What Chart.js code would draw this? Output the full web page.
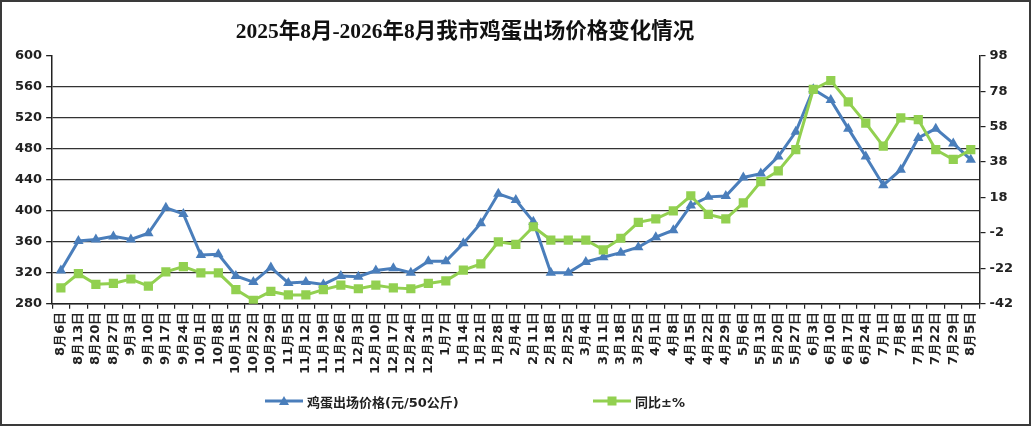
<!DOCTYPE html>
<html>
<head>
<meta charset="utf-8">
<script src="https://cdn.jsdelivr.net/npm/chart.js@4.4.1/dist/chart.umd.min.js"></script>
<style>
  html, body { margin: 0; padding: 0; background: #fff; }
  #wrap { position: relative; width: 1031px; height: 426px; }
  #frame {
    position: absolute; left: 0; top: 0; width: 1031px; height: 426px;
    box-sizing: border-box; border: 2px solid #3a3a3a; pointer-events: none;
  }
  #legend {
    position: absolute; top: 391px; left: 0; width: 1031px; height: 20px;
    font-family: "DejaVu Sans", "Noto Sans CJK SC", sans-serif;
    font-size: 13px; font-weight: bold; color: #222;
  }
  .item { position: absolute; top: 0; display: flex; align-items: center; height: 20px; white-space: nowrap; }
  .item svg { margin-right: 4px; }
</style>
</head>
<body>
<div id="wrap">
  <canvas id="eggChart" width="1031" height="426"></canvas>
  <div id="legend">
    <div class="item" style="left:265px">
      <svg width="38" height="14"><line x1="0" y1="7" x2="38" y2="7" stroke="#4a7ebb" stroke-width="3"/><polygon points="19,2 24,11 14,11" fill="#4a7ebb"/></svg>
      <span>鸡蛋出场价格(元/50公斤)</span>
    </div>
    <div class="item" style="left:593px">
      <svg width="38" height="14"><line x1="0" y1="7" x2="38" y2="7" stroke="#92d050" stroke-width="3"/><rect x="14.5" y="2.5" width="9" height="9" fill="#92d050"/></svg>
      <span>同比±%</span>
    </div>
  </div>
  <div id="frame"></div>
</div>
<script>
(() => {
  const categories = [
    "8月6日", "8月13日", "8月20日", "8月27日", "9月3日", "9月10日", "9月17日", "9月24日",
    "10月1日", "10月8日", "10月15日", "10月22日", "10月29日", "11月5日", "11月12日", "11月19日",
    "11月26日", "12月3日", "12月10日", "12月17日", "12月24日", "12月31日", "1月7日", "1月14日",
    "1月21日", "1月28日", "2月4日", "2月11日", "2月18日", "2月25日", "3月4日", "3月11日",
    "3月18日", "3月25日", "4月1日", "4月8日", "4月15日", "4月22日", "4月29日", "5月6日",
    "5月13日", "5月20日", "5月27日", "6月3日", "6月10日", "6月17日", "6月24日", "7月1日",
    "7月8日", "7月15日", "7月22日", "7月29日", "8月5日",
  ];

  // 鸡蛋出场价格 (元/50公斤), left axis
  const priceValues = [
    323, 361, 363, 367, 363, 371, 404, 396, 343, 344, 316, 308, 327, 307, 308, 305,
    316, 315, 323, 326, 320, 335, 335, 358, 384, 422, 414, 386, 320, 320, 334, 340,
    346, 353, 366, 375, 407, 418, 419, 443, 448, 470, 502, 557, 543, 506, 470, 433,
    453, 494, 506, 487, 466,
  ];

  // 同比 ±%, right axis
  const yoyValues = [
    -33, -25, -31, -30.5, -28, -32, -24, -21, -24.5, -24.5, -34, -40, -35, -37, -37, -34,
    -31.5, -33.5, -31.5, -33, -33.5, -30.5, -29, -23, -19.5, -7, -8.5, 1.5, -6, -6, -6, -11.5,
    -5, 4, 6, 10.5, 19, 8.5, 6, 15, 27, 33, 45, 79, 84, 72, 60, 47,
    63, 62, 45, 39.5, 45,
  ];

  const leftTicks = [280, 320, 360, 400, 440, 480, 520, 560, 600];
  const rightTicks = [-42, -22, -2, 18, 38, 58, 78, 98];

  const titleText = "2025年8月-2026年8月我市鸡蛋出场价格变化情况";

  const ink = "#222";
  const axisFont = { family: "DejaVu Sans", size: 13, weight: "bold" };

  // move title block sideways after layout (reference title sits left of centre)
  const shiftTitle = {
    id: "shiftTitle",
    afterLayout(chart, args, opts) {
      const box = chart.titleBlock;
      if (box) {
        box.left += opts.dx || 0;
        box.right += opts.dx || 0;
      }
    },
  };

  const canvas = document.querySelector("#eggChart");

  new Chart(canvas, {
    type: "line",
    data: {
      labels: categories,
      datasets: [
        {
          label: "鸡蛋出场价格(元/50公斤)",
          data: priceValues,
          yAxisID: "y",
          borderColor: "#4a7ebb",
          backgroundColor: "#4a7ebb",
          borderWidth: 3,
          pointStyle: "triangle",
          pointRadius: 6,
          pointBorderWidth: 0,
          tension: 0,
          order: 2,
        },
        {
          label: "同比±%",
          data: yoyValues,
          yAxisID: "y1",
          borderColor: "#92d050",
          backgroundColor: "#92d050",
          borderWidth: 3,
          pointStyle: "rect",
          pointRadius: 6.5,
          pointBorderWidth: 0,
          tension: 0,
          order: 1,
        },
      ],
    },
    options: {
      responsive: false,
      animation: false,
      layout: {
        padding: { left: 11, right: 14, top: 9, bottom: 49 },
      },
      scales: {
        x: {
          offset: true,
          border: { display: true, color: ink, width: 1.5 },
          grid: {
            offset: true,
            drawOnChartArea: false,
            drawTicks: true,
            tickLength: 5,
            color: ink,
            lineWidth: 1.2,
          },
          ticks: {
            autoSkip: false,
            maxRotation: 90,
            minRotation: 90,
            padding: 3,
            color: ink,
            font: axisFont,
          },
        },
        y: {
          position: "left",
          min: 280,
          max: 600,
          afterBuildTicks: (scale) => {
            scale.ticks = leftTicks.map((value) => ({ value }));
          },
          border: { display: true, color: ink, width: 1.5 },
          grid: {
            color: (ctx) => (ctx.tick && ctx.tick.value === 600 ? "rgba(0,0,0,0)" : "#333"),
            tickColor: ink,
            lineWidth: 1.3,
            tickLength: 6,
          },
          ticks: {
            padding: 4,
            color: ink,
            font: axisFont,
          },
        },
        y1: {
          position: "right",
          min: -42,
          max: 98,
          afterBuildTicks: (scale) => {
            scale.ticks = rightTicks.map((value) => ({ value }));
          },
          border: { display: true, color: ink, width: 1.5 },
          grid: {
            drawOnChartArea: false,
            color: ink,
            lineWidth: 1.2,
            tickLength: 6,
          },
          ticks: {
            padding: 4,
            color: ink,
            font: axisFont,
          },
        },
      },
      plugins: {
        legend: { display: false },
        tooltip: { enabled: false },
        title: {
          display: true,
          text: titleText,
          color: "#111",
          font: { family: "'Liberation Serif', 'Noto Sans CJK SC'", size: 21.5, weight: "bold" },
          padding: { top: 11, bottom: 10 },
        },
        shiftTitle: { dx: -49 },
      },
    },
    plugins: [shiftTitle],
  });
})();
</script>
</body>
</html>
